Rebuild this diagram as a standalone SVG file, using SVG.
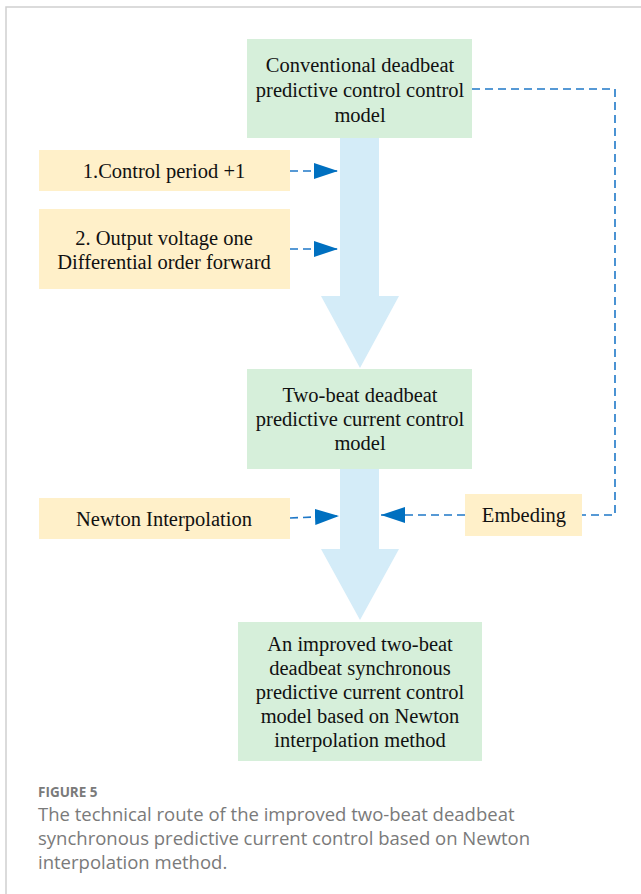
<svg xmlns="http://www.w3.org/2000/svg" width="641" height="894" viewBox="0 0 641 894">
<defs>
<style>
.g{fill:#d6efda}
.o{fill:#fff0c9}
.s{fill:#d4ecf8}
.t{font-family:"Liberation Serif","Times New Roman",serif;font-size:20.5px;fill:#111;text-anchor:middle}
.d{fill:none;stroke:#1f78c8;stroke-width:1.6;stroke-dasharray:8,5}
.cap{font-family:"Open Sans","Noto Sans",sans-serif;fill:#7a7a7a}
</style>
<marker id="ah" markerWidth="24" markerHeight="16" refX="24" refY="8" orient="auto" markerUnits="userSpaceOnUse">
<path d="M0,0 L24,8 L0,16 Z" fill="#0070c0"/>
</marker>
</defs>
<rect width="641" height="894" fill="#fff"/>
<path d="M6,894 V7 H641" fill="none" stroke="#d0d0d0" stroke-width="1.5"/>

<g id="flow">
<path class="s" d="M340,138 H379 V296 H399 L360,368 L321,296 H340 Z"/>
<path class="s" d="M340,469 H379 V549 H399 L360,620 L321,549 H340 Z"/>
</g>

<g id="node-conventional">
<rect class="g" x="247" y="39" width="225" height="99"/>
<text class="t" x="360" y="72">Conventional deadbeat</text>
<text class="t" x="360" y="97">predictive control control</text>
<text class="t" x="360" y="122">model</text>
</g>
<g id="node-control-period">
<rect class="o" x="39" y="150" width="251" height="41"/>
<text class="t" x="164" y="178">1.Control period +1</text>
</g>
<g id="node-output-voltage">
<rect class="o" x="39" y="209" width="251" height="80"/>
<text class="t" x="164" y="245">2. Output voltage one</text>
<text class="t" x="164" y="269">Differential order forward</text>
</g>
<g id="node-two-beat">
<rect class="g" x="247" y="369" width="225" height="100"/>
<text class="t" x="360" y="402">Two-beat deadbeat</text>
<text class="t" x="360" y="426">predictive current control</text>
<text class="t" x="360" y="450">model</text>
</g>
<g id="node-newton">
<rect class="o" x="39" y="498" width="251" height="41"/>
<text class="t" x="164" y="526">Newton Interpolation</text>
</g>
<g id="node-embeding">
<rect class="o" x="465" y="494" width="117" height="42"/>
<text class="t" x="524" y="522">Embeding</text>
</g>
<g id="node-improved">
<rect class="g" x="238" y="622" width="244" height="139"/>
<text class="t" x="360" y="651">An improved two-beat</text>
<text class="t" x="360" y="675">deadbeat synchronous</text>
<text class="t" x="360" y="699">predictive current  control</text>
<text class="t" x="360" y="723">model based on Newton</text>
<text class="t" x="360" y="747">interpolation method</text>
</g>

<g id="connectors">
<line class="d" x1="290" y1="171" x2="338" y2="171" marker-end="url(#ah)"/>
<line class="d" x1="290" y1="249" x2="338" y2="249" marker-end="url(#ah)"/>
<line class="d" x1="290" y1="518" x2="339" y2="516" marker-end="url(#ah)"/>
<line class="d" x1="465" y1="515" x2="381" y2="515" marker-end="url(#ah)"/>
<polyline class="d" points="472,89 615,89 615,515 582,515"/>
</g>

<g id="caption">
<text class="cap" x="38" y="797" font-size="13.5" font-weight="bold">FIGURE 5</text>
<text class="cap" x="38" y="821" font-size="18.5">The technical route of the improved two-beat deadbeat</text>
<text class="cap" x="38" y="845" font-size="18.5">synchronous predictive current control based on Newton</text>
<text class="cap" x="38" y="869" font-size="18.5">interpolation method.</text>
</g>
</svg>
